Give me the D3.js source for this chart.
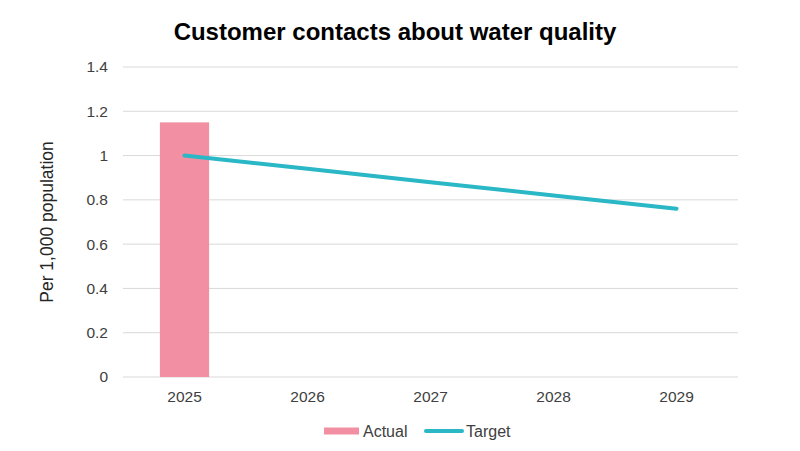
<!DOCTYPE html>
<html><head><meta charset="utf-8">
<script src="https://cdn.jsdelivr.net/npm/d3@7"></script>
<style>body{margin:0;background:#fff}svg{display:block}text{font-family:"Liberation Sans",Arial,sans-serif}</style>
</head><body>
<svg id="c" width="800" height="451"></svg>
<script>
const categories = ["2025","2026","2027","2028","2029"];
const actual = [1.15, null, null, null, null];
const target = [1.0, 0.94, 0.88, 0.82, 0.76];
const yTicks = [0, 0.2, 0.4, 0.6, 0.8, 1, 1.2, 1.4];

const svg = d3.select("#c");
const m = {l:123, r:62, t:67, b:74};
const W = 800, H = 451;
const x = d3.scaleBand().domain(categories).range([m.l, W-m.r]).paddingInner(0.6).paddingOuter(0.3);
const y = d3.scaleLinear().domain([0,1.4]).range([H-m.b, m.t]);
const xc = d => x(d) + x.bandwidth()/2;

// grid
svg.append("g").selectAll("line").data(yTicks).join("line")
  .attr("x1", m.l).attr("x2", W-m.r)
  .attr("y1", d=>y(d)).attr("y2", d=>y(d))
  .attr("stroke", "#d9d9d9").attr("stroke-width", 1);

// y axis labels
const ya = svg.append("g").attr("transform",`translate(${m.l},0)`)
  .call(d3.axisLeft(y).tickValues(yTicks).tickSize(0).tickPadding(15).tickFormat(d=>d3.format("")(+d.toFixed(1))));
ya.select(".domain").remove();
ya.selectAll("text").attr("font-size",15.5).attr("fill","#404040").style("font-family","Liberation Sans, Arial, sans-serif");

// x axis
const xa = svg.append("g").attr("transform",`translate(0,${H-m.b})`)
  .call(d3.axisBottom(x).tickSize(0).tickPadding(13.5));
xa.select(".domain").remove();
xa.selectAll("text").attr("font-size",15.5).attr("fill","#404040").style("font-family","Liberation Sans, Arial, sans-serif");

// bars
svg.append("g").selectAll("rect").data(categories.map((c,i)=>({c,v:actual[i]})).filter(d=>d.v!=null)).join("rect")
  .attr("x", d=>x(d.c)).attr("width", x.bandwidth())
  .attr("y", d=>y(d.v)).attr("height", d=>y(0)-y(d.v))
  .attr("fill", "#f28fa2");

// line
const line = d3.line().x(d=>xc(d.c)).y(d=>y(d.v));
svg.append("path").datum(categories.map((c,i)=>({c,v:target[i]})))
  .attr("d", line).attr("fill","none").attr("stroke","#2ab7c6").attr("stroke-width",4).attr("stroke-linecap","round");

// title
svg.append("text").attr("x",395).attr("y",40).attr("text-anchor","middle")
  .attr("font-size",24).attr("font-weight","bold").attr("fill","#000").text("Customer contacts about water quality");

// y label
svg.append("text").attr("transform",`translate(53,${(y(0)+y(1.4))/2}) rotate(-90)`).attr("text-anchor","middle")
  .attr("font-size",17.5).attr("fill","#262626").text("Per 1,000 population");

// legend
const lg = svg.append("g");
lg.append("rect").attr("x",324).attr("y",427.5).attr("width",35).attr("height",7).attr("fill","#f28fa2");
lg.append("text").attr("x",363).attr("y",437).attr("font-size",16).attr("fill","#404040").text("Actual");
lg.append("line").attr("x1",426).attr("x2",462).attr("y1",431).attr("y2",431).attr("stroke","#2ab7c6").attr("stroke-width",4).attr("stroke-linecap","round");
lg.append("text").attr("x",466).attr("y",437).attr("font-size",16).attr("fill","#404040").text("Target");
</script>
</body></html>
